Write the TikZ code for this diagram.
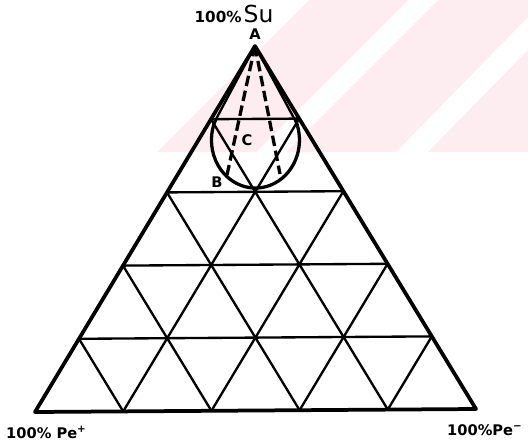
\documentclass[tikz,border=0pt]{standalone}
\usepackage{fontspec}
\setmainfont{DejaVu Sans}
\usetikzlibrary{calc}

\definecolor{washpink}{RGB}{253,237,240}

\begin{document}
\begin{tikzpicture}[
  x=0.03cm,
  y=-0.03cm,
  side/.style={line width=3.2pt, line join=round, line cap=round},
  gridline/.style={line width=2pt},
  guide/.style={line width=2.8pt, dash pattern=on 9pt off 4pt},
  bowl/.style={line width=2.8pt},
  corner/.style={font=\fontsize{12.5}{13}\selectfont\bfseries, inner sep=0pt},
  letter/.style={font=\fontsize{12.5}{13}\selectfont\bfseries, inner sep=1pt}
]
  \useasboundingbox (0,0) rectangle (528,446);

  \fill[washpink] (157,152) -- (256,152) -- (408,0) -- (309,0) -- cycle;
  \fill[washpink] (286,152) -- (396,152) -- (528,17) -- (528,0) -- (438,0) -- cycle;
  \fill[washpink] (428,152) -- (528,152) -- (528,50) -- cycle;

  \coordinate (A) at (255,46);
  \coordinate (L) at (35,412);
  \coordinate (R) at (476,409);

  \foreach \i in {1,...,4} {
    \draw[gridline] ($(A)!\i/5!(L)$) -- ($(A)!\i/5!(R)$);
    \draw[gridline] ($(L)!\i/5!(R)$) -- ($(A)!\i/5!(R)$);
    \draw[gridline] ($(L)!\i/5!(R)$) -- ($(L)!\i/5!(A)$);
  }

  \draw[side] (A) -- (L) -- (R) -- cycle;

  \coordinate (tl) at ($(A)!1/5!(L)+(5,0)$);
  \coordinate (tr) at ($(A)!1/5!(R)+(-5,0)$);
  \draw[side, line width=2pt] (A) -- (tl);
  \draw[side, line width=2pt] (A) -- (tr);

  \coordinate (bowltop) at (295,119);
  \draw[bowl] (bowltop) arc[start angle=-26, end angle=206, x radius=44, y radius=48];

  \coordinate (bl) at (227,175);
  \coordinate (br) at (280,174);
  \draw[guide] (A) -- (bl);
  \draw[guide] (A) -- (br);

  \node[anchor=base, inner sep=0pt] (su) at (234,22)
    {{\fontsize{13}{13}\selectfont\bfseries 100\%}\,{\fontsize{20}{20}\selectfont Su}};
  \node[letter] (a) at (255,34) {A};
  \node[letter] (c) at (247,140) {C};
  \node[letter] (b) at (217,182) {B};
  \node[corner, anchor=base west] (pplus) at (6,438) {100\% Pe\textsuperscript{+}};
  \node[corner, anchor=base west] (pminus) at (447,435) {100\%Pe\textsuperscript{−}};
\end{tikzpicture}
\end{document}
